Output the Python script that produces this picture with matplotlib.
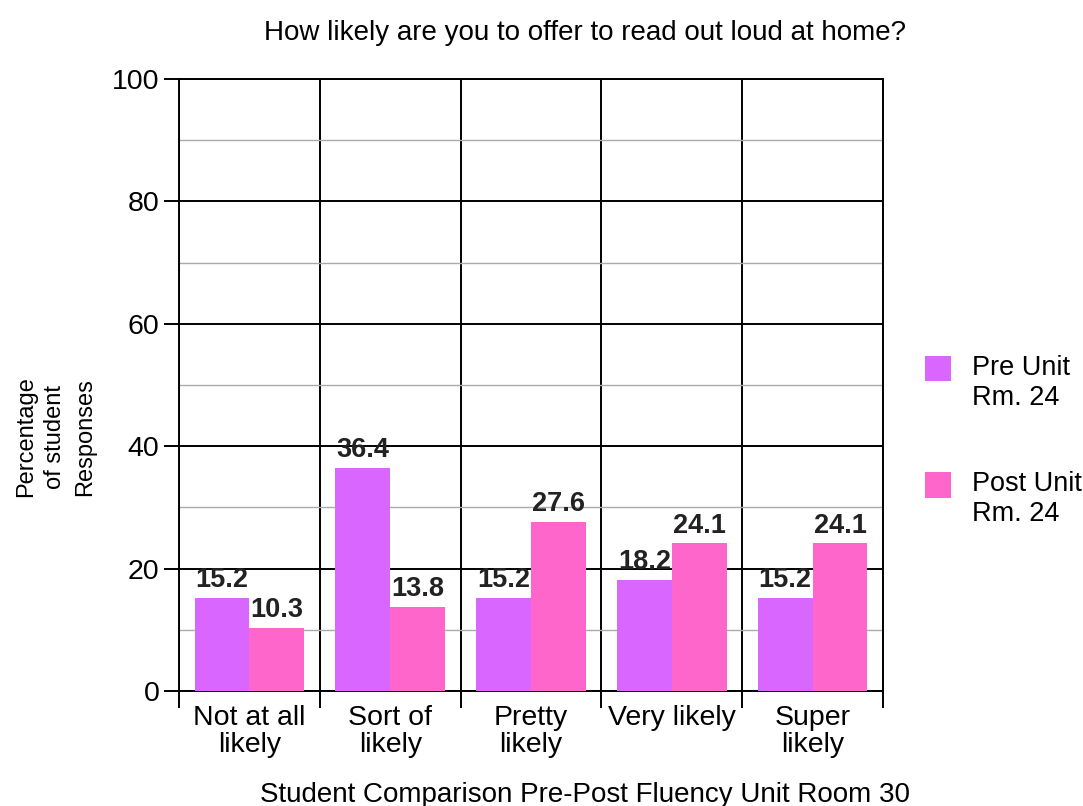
import matplotlib.pyplot as plt
import numpy as np
from matplotlib.legend_handler import HandlerPatch
from matplotlib.patches import Rectangle

plt.rcParams['font.family'] = ['Liberation Sans', 'DejaVu Sans']

categories = ["Not at all\nlikely", "Sort of\nlikely", "Pretty\nlikely", "Very likely", "Super\nlikely"]
pre_unit = [15.2, 36.4, 15.2, 18.2, 15.2]
post_unit = [10.3, 13.8, 27.6, 24.1, 24.1]
series_names = ["Pre Unit\nRm. 24", "Post Unit\nRm. 24"]
colors = ["#D966FF", "#FF66CC"]


class TopSquare(HandlerPatch):
    # legend swatch sits beside the first line of a two-line label
    def create_artists(self, legend, orig_handle, xdescent, ydescent, width, height, fontsize, trans):
        s = fontsize * 0.95
        p = Rectangle((-xdescent, -ydescent + height - s + 0.2 * fontsize), s, s,
                      facecolor=orig_handle.get_facecolor(), edgecolor="none", transform=trans)
        return [p]


fig = plt.figure(figsize=(10.83, 8.06), dpi=100)
ax = fig.add_axes([0.1653, 0.1427, 0.65, 0.7593])

x = np.arange(len(categories))
w = 0.39
b1 = ax.bar(x - w / 2, pre_unit, w, color=colors[0], zorder=3)
b2 = ax.bar(x + w / 2, post_unit, w, color=colors[1], zorder=3)

for bars, vals in ((b1, pre_unit), (b2, post_unit)):
    for r, v in zip(bars, vals):
        ax.text(r.get_x() + r.get_width() / 2, v + 0.8, f"{v:.1f}", ha="center", va="bottom",
                fontsize=19.5, fontweight="bold", color="#222222", zorder=4)

ax.set_xlim(-0.5, len(categories) - 0.5)
ax.set_ylim(0, 100)

# y grid: dark lines on the 20s, light lines between
ax.set_yticks(np.arange(0, 101, 20))
ax.set_yticks(np.arange(10, 100, 20), minor=True)
ax.grid(axis="y", which="major", color="black", lw=1.4, zorder=1)
ax.grid(axis="y", which="minor", color="#aaaaaa", lw=1.0, zorder=1)

# category separators run below the axis as ticks
ax.set_xticks(x)
ax.set_xticklabels(categories, linespacing=1.05)
ax.set_xticks(np.arange(-0.5, len(categories), 1), minor=True)
ax.grid(axis="x", which="minor", color="black", lw=1.4, zorder=2)
ax.tick_params(axis="x", which="major", length=0, labelsize=20.5, pad=10)
ax.tick_params(axis="x", which="minor", length=12, width=1.4, direction="out")
ax.tick_params(axis="y", which="major", length=11, width=1.4, labelsize=20.5, pad=3)
ax.tick_params(axis="y", which="minor", length=0)

for s in ax.spines.values():
    s.set_linewidth(1.4)

ax.set_title("How likely are you to offer to read out loud at home?", fontsize=20, pad=28, x=0.577)
ax.set_xlabel("Student Comparison Pre-Post Fluency Unit Room 30", fontsize=20)
ax.xaxis.set_label_coords(0.577, -0.148)
ax.set_ylabel("Percentage\nof student\nResponses", fontsize=17, linespacing=1.45)
ax.yaxis.set_label_coords(-0.118, 0.415)

ax.legend([b1.patches[0], b2.patches[0]], series_names,
          loc="center left", bbox_to_anchor=(1.045, 0.408), frameon=False, fontsize=19.5,
          handlelength=0.95, handleheight=2.3, handletextpad=0.75, labelspacing=2.23,
          borderaxespad=0, handler_map={Rectangle: TopSquare()})

fig.savefig("out.png", dpi=100)
